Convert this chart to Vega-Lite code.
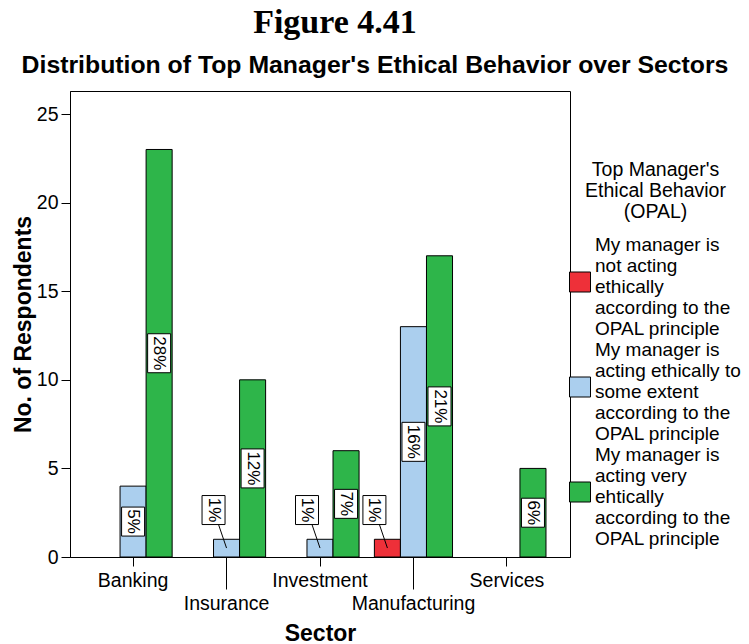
{
  "$schema": "https://vega.github.io/schema/vega-lite/v6.json",
  "autosize": {"type": "none"},
  "padding": {"left": 70, "top": 91, "right": 179, "bottom": 87},
  "width": 500,
  "height": 466,
  "background": "white",
  "title": {
    "text": "Figure 4.41",
    "subtitle": "Distribution of Top Manager's Ethical Behavior over Sectors",
    "anchor": "middle",
    "frame": "group",
    "font": "Liberation Serif",
    "fontSize": 34,
    "fontWeight": "bold",
    "color": "black",
    "subtitleFont": "Liberation Sans",
    "subtitleFontSize": 24.8,
    "subtitleFontWeight": "bold",
    "subtitleColor": "black",
    "subtitlePadding": 13,
    "offset": 13
  },
  "data": {
    "values": [
      {"sector": "Banking", "behavior": "My manager is acting ethically to some extent according to the OPAL principle", "count": 4, "pct": "5%"},
      {"sector": "Banking", "behavior": "My manager is acting very ehtically according to the OPAL principle", "count": 23, "pct": "28%"},
      {"sector": "Insurance", "behavior": "My manager is acting ethically to some extent according to the OPAL principle", "count": 1, "pct": "1%"},
      {"sector": "Insurance", "behavior": "My manager is acting very ehtically according to the OPAL principle", "count": 10, "pct": "12%"},
      {"sector": "Investment", "behavior": "My manager is acting ethically to some extent according to the OPAL principle", "count": 1, "pct": "1%"},
      {"sector": "Investment", "behavior": "My manager is acting very ehtically according to the OPAL principle", "count": 6, "pct": "7%"},
      {"sector": "Manufacturing", "behavior": "My manager is not acting ethically according to the OPAL principle", "count": 1, "pct": "1%"},
      {"sector": "Manufacturing", "behavior": "My manager is acting ethically to some extent according to the OPAL principle", "count": 13, "pct": "16%"},
      {"sector": "Manufacturing", "behavior": "My manager is acting very ehtically according to the OPAL principle", "count": 17, "pct": "21%"},
      {"sector": "Services", "behavior": "My manager is acting very ehtically according to the OPAL principle", "count": 5, "pct": "6%"}
    ]
  },
  "transform": [
    {"calculate": "datum.count == 1 ? 2.65 : datum.count / 2", "as": "mid"}
  ],
  "encoding": {
    "x": {
      "field": "sector",
      "type": "nominal",
      "sort": ["Banking", "Insurance", "Investment", "Manufacturing", "Services"],
      "scale": {"paddingInner": 0, "paddingOuter": 0.175},
      "axis": {
        "title": "Sector",
        "titleFont": "Liberation Sans",
        "titleFontSize": 23,
        "titleFontWeight": "bold",
        "titleColor": "black",
        "titleBaseline": "alphabetic",
        "titleY": 83,
        "labelAngle": 0,
        "labelFont": "Liberation Sans",
        "labelFontSize": 19.5,
        "labelColor": "black",
        "labelPadding": 5,
        "tickSize": {"condition": {"test": "datum.value == 'Insurance' || datum.value == 'Manufacturing'", "value": 32}, "value": 9},
        "tickColor": "black",
        "domainColor": "black",
        "grid": false
      }
    },
    "xOffset": {
      "field": "behavior",
      "type": "nominal",
      "scale": {
        "domain": [
          "My manager is not acting ethically according to the OPAL principle",
          "My manager is acting ethically to some extent according to the OPAL principle",
          "My manager is acting very ehtically according to the OPAL principle"
        ],
        "paddingInner": 0,
        "paddingOuter": 0.294
      }
    }
  },
  "layer": [
    {
      "mark": {"type": "bar", "stroke": "black", "strokeWidth": 1, "opacity": 1},
      "encoding": {
        "y": {
          "field": "count",
          "type": "quantitative",
          "scale": {"domain": [0, 26.3], "nice": false},
          "axis": {
            "title": "No. of Respondents",
            "titleFont": "Liberation Sans",
            "titleFontSize": 23,
            "titleFontWeight": "bold",
            "titleColor": "black",
            "titleBaseline": "alphabetic",
            "titleX": -40,
            "values": [0, 5, 10, 15, 20, 25],
            "labelFont": "Liberation Sans",
            "labelFontSize": 19.5,
            "labelColor": "black",
            "labelPadding": 3,
            "tickSize": 9,
            "tickColor": "black",
            "domainColor": "black",
            "grid": false
          }
        },
        "color": {
          "field": "behavior",
          "type": "nominal",
          "scale": {
            "domain": [
              "My manager is not acting ethically according to the OPAL principle",
              "My manager is acting ethically to some extent according to the OPAL principle",
              "My manager is acting very ehtically according to the OPAL principle"
            ],
            "range": ["#EE3039", "#ABCFEE", "#2EB54A"]
          },
          "legend": {
            "orient": "none",
            "legendX": 500.5,
            "legendY": 70,
            "padding": 0,
            "title": ["Top Manager's", "Ethical Behavior", "(OPAL)"],
            "titleFont": "Liberation Sans",
            "titleFontSize": 19.5,
            "titleFontWeight": "normal",
            "titleColor": "black",
            "titleLineHeight": 21,
            "titleAlign": "center",
            "titleAnchor": "middle",
            "titlePadding": 13,
            "labelFont": "Liberation Sans",
            "labelFontSize": 19,
            "labelColor": "black",
            "labelLineHeight": 21,
            "labelLimit": 400,
            "labelOffset": 5.5,
            "labelExpr": "test(/not acting/, datum.value) ? ['My manager is', 'not acting', 'ethically', 'according to the', 'OPAL principle'] : test(/some extent/, datum.value) ? ['My manager is', 'acting ethically to', 'some extent', 'according to the', 'OPAL principle'] : ['My manager is', 'acting very', 'ehtically', 'according to the', 'OPAL principle']",
            "symbolType": "M-10.5,27H10.5V47H-10.5Z",
            "symbolSize": 4,
            "symbolStrokeColor": "black",
            "symbolStrokeWidth": 1,
            "symbolOpacity": 1,
            "rowPadding": 1
          }
        }
      }
    },
    {
      "mark": {"type": "point", "filled": true, "fill": "white", "stroke": "black", "strokeWidth": 1, "opacity": 1, "size": 4},
      "encoding": {
        "y": {"field": "mid", "type": "quantitative"},
        "shape": {
          "condition": [
            {"test": "datum.count == 1", "value": "M-24.5,-14.5H-1.5V14.5H-24.5Z M-8,14.5L0,38"},
            {"test": "length(datum.pct) > 2", "value": "M-11.5,-19.5H11.5V19.5H-11.5Z"}
          ],
          "value": "M-11.5,-14.5H11.5V14.5H-11.5Z"
        }
      }
    },
    {
      "transform": [{"filter": "datum.count > 1"}],
      "mark": {"type": "text", "angle": 90, "font": "Liberation Sans", "fontSize": 17, "align": "center", "baseline": "middle", "color": "black"},
      "encoding": {
        "y": {"field": "mid", "type": "quantitative"},
        "text": {"field": "pct"}
      }
    },
    {
      "transform": [{"filter": "datum.count == 1"}],
      "mark": {"type": "text", "angle": 90, "dy": 13, "font": "Liberation Sans", "fontSize": 17, "align": "center", "baseline": "middle", "color": "black"},
      "encoding": {
        "y": {"field": "mid", "type": "quantitative"},
        "text": {"field": "pct"}
      }
    }
  ],
  "config": {
    "view": {"stroke": "black", "strokeWidth": 1},
    "style": {
      "group-title": {"dx": 15},
      "group-subtitle": {"dx": 55}
    }
  }
}
